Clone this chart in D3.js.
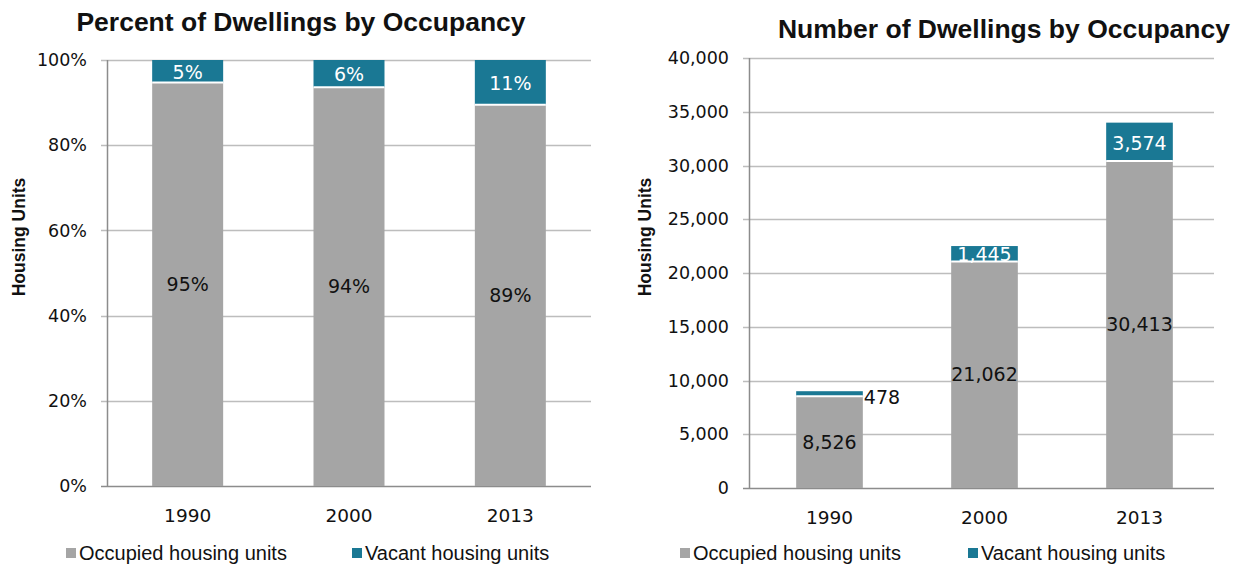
<!DOCTYPE html>
<html>
<head>
<meta charset="utf-8">
<script src="https://cdn.jsdelivr.net/npm/d3@7"></script>
<style>
  body { margin: 0; background: #fff; }
  text { font-family: "DejaVu Sans", sans-serif; fill: #111; }
  .title { font-family: "Liberation Sans", Arial, sans-serif; font-weight: bold; font-size: 26.5px; }
  .tick-label { font-size: 17.5px; }
  .x-label { font-size: 18.5px; }
  .axis-title { font-family: "Liberation Sans", Arial, sans-serif; font-weight: bold; font-size: 17.5px; }
  .data-label { font-size: 19px; }
  .legend-text { font-family: "Liberation Sans", Arial, sans-serif; font-size: 20px; }
</style>
</head>
<body>
<svg id="chart" width="1242" height="566"></svg>
<script>
// data
var years = ["1990", "2000", "2013"];
var seriesNames = ["Occupied housing units", "Vacant housing units"];
var occupiedPct = [94.7, 93.6, 89.48];
var vacantPct = [5.3, 6.4, 10.52];
var occupiedCount = [8526, 21062, 30413];
var vacantCount = [478, 1445, 3574];
var pctTicks = [0, 20, 40, 60, 80, 100];
var countTicks = [0, 5000, 10000, 15000, 20000, 25000, 30000, 35000, 40000];

var grey = "#a5a5a5",
    teal = "#1a7894",
    gridColor = "#bdbdbd",
    axisColor = "#8c8c8c";

var svg = d3.select("#chart");

function drawPanel(opt) {
  var g = svg.append("g");

  // bars sit a few px off the axis in the right panel
  var x = d3.scaleBand()
    .domain(years)
    .range([opt.left + opt.shift, opt.right + opt.shift])
    .paddingInner(opt.pad)
    .paddingOuter(opt.pad / 2);

  var y = d3.scaleLinear()
    .domain([0, opt.max])
    .range([opt.bottom, opt.top]);

  // gridlines + little ticks on the left
  g.selectAll(".grid")
    .data(opt.ticks)
    .enter()
    .append("line")
    .attr("x1", opt.left - 6)
    .attr("x2", opt.right)
    .attr("y1", d => Math.round(y(d)) + 0.5)
    .attr("y2", d => Math.round(y(d)) + 0.5)
    .attr("stroke", (d, i) => i == 0 ? axisColor : gridColor)
    .attr("stroke-width", 1.5);

  g.append("line")
    .attr("x1", opt.left + 0.5).attr("x2", opt.left + 0.5)
    .attr("y1", opt.top).attr("y2", opt.bottom)
    .attr("stroke", axisColor)
    .attr("stroke-width", 1.5);

  g.selectAll(".ytick")
    .data(opt.ticks)
    .enter()
    .append("text")
    .attr("class", "tick-label")
    .attr("x", opt.left - 20)
    .attr("y", d => y(d))
    .attr("dy", "0.35em")
    .attr("text-anchor", "end")
    .text(opt.tickFmt);

  g.selectAll(".xtick")
    .data(years)
    .enter()
    .append("text")
    .attr("class", "x-label")
    .attr("x", d => x(d) + x.bandwidth() / 2)
    .attr("y", opt.bottom + 36)
    .attr("text-anchor", "middle")
    .text(d => d);

  // bars
  years.forEach(function(yr, i) {
    var a = opt.low[i], b = opt.high[i];
    g.append("rect")
      .attr("x", x(yr))
      .attr("width", x.bandwidth())
      .attr("y", y(a))
      .attr("height", y(0) - y(a))
      .attr("fill", grey);
    g.append("rect")
      .attr("x", x(yr))
      .attr("width", x.bandwidth())
      .attr("y", y(a + b))
      .attr("height", y(a) - y(a + b))
      .attr("fill", teal);
    g.append("line")
      .attr("x1", x(yr)).attr("x2", x(yr) + x.bandwidth())
      .attr("y1", y(a)).attr("y2", y(a))
      .attr("stroke", "#fff").attr("stroke-width", 2);

    g.append("text")
      .attr("class", "data-label")
      .attr("x", x(yr) + x.bandwidth() / 2)
      .attr("y", (y(0) + y(a)) / 2)
      .attr("dy", "0.35em")
      .attr("text-anchor", "middle")
      .text(opt.labelFmt(a));

    var segH = y(a) - y(a + b);
    var outside = segH < 8;
    g.append("text")
      .attr("class", "data-label")
      .attr("x", outside ? x(yr) + x.bandwidth() + 1 : x(yr) + x.bandwidth() / 2)
      .attr("y", outside ? y(a + b) + 6 : (y(a) + y(a + b)) / 2 + 1)
      .attr("dy", "0.35em")
      .attr("text-anchor", outside ? "start" : "middle")
      .style("fill", outside ? "#111" : "#fff")
      .text(opt.labelFmt(b));
  });

  // title
  g.append("text")
    .attr("class", "title")
    .attr("x", opt.titleX)
    .attr("y", opt.titleY)
    .attr("text-anchor", "middle")
    .text(opt.title);

  // y axis title
  g.append("text")
    .attr("class", "axis-title")
    .attr("transform", `translate(${opt.yTitleX}, ${(opt.top + opt.bottom) / 2 - 36}) rotate(-90)`)
    .attr("text-anchor", "middle")
    .text("Housing Units");

  // legend
  var legend = g.selectAll(".legend")
    .data(seriesNames)
    .enter()
    .append("g")
    .attr("transform", (d, i) => `translate(${opt.legendX[i]}, 553)`);

  legend.append("rect")
    .attr("x", 0).attr("y", -5)
    .attr("width", 10).attr("height", 10)
    .attr("fill", (d, i) => i == 0 ? grey : teal);

  legend.append("text")
    .attr("class", "legend-text")
    .attr("x", 13)
    .attr("dy", "0.35em")
    .text(d => d);
}

drawPanel({
  left: 107, right: 591, top: 60, bottom: 486, shift: 0,
  max: 100, ticks: pctTicks, pad: 0.56,
  tickFmt: d => d + "%",
  labelFmt: v => Math.round(v) + "%",
  low: occupiedPct, high: vacantPct,
  title: "Percent of Dwellings by Occupancy",
  titleX: 301, titleY: 31,
  yTitleX: 25,
  legendX: [66, 352]
});

drawPanel({
  left: 749, right: 1214, top: 58, bottom: 488, shift: 3,
  max: 40000, ticks: countTicks, pad: 0.57,
  tickFmt: d3.format(","),
  labelFmt: d3.format(","),
  low: occupiedCount, high: vacantCount,
  title: "Number of Dwellings by Occupancy",
  titleX: 1004, titleY: 38,
  yTitleX: 651,
  legendX: [680, 968]
});
</script>
</body>
</html>
